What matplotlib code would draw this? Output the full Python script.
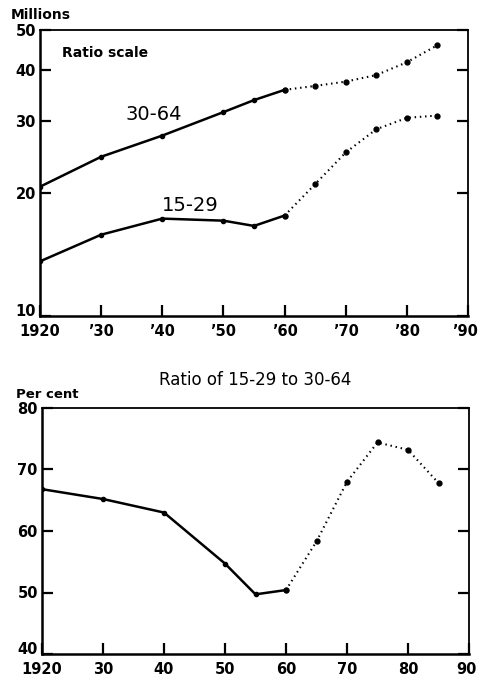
import matplotlib.pyplot as plt
from matplotlib.transforms import ScaledTranslation

# population, millions (ratio scale)
years_obs = [1920, 1930, 1940, 1950, 1955, 1960]
years_proj = [1960, 1965, 1970, 1975, 1980, 1985]
age_30_64_obs = [20.7, 24.5, 27.6, 31.5, 33.7, 35.7]
age_30_64_proj = [35.7, 36.5, 37.4, 38.8, 41.7, 45.9]
age_15_29_obs = [13.6, 15.8, 17.3, 17.1, 16.6, 17.6]
age_15_29_proj = [17.6, 21.0, 25.1, 28.6, 30.5, 30.9]

# ratio of 15-29 to 30-64, per cent
ratio_obs = [66.8, 65.2, 63.0, 54.7, 49.7, 50.4]
ratio_proj = [50.4, 58.3, 68.0, 74.4, 73.2, 67.8]

xticks = [1920, 1930, 1940, 1950, 1960, 1970, 1980, 1990]
top_xlabels = ['1920', '’30', '’40', '’50', '’60', '’70', '’80', '’90']
bot_xlabels = ['1920', '30', '40', '50', '60', '70', '80', '90']
top_yticks = [10, 20, 30, 40, 50]
bot_yticks = [40, 50, 60, 70, 80]

W, H = 479, 678
plt.rcParams['font.family'] = ['DejaVu Sans']
fig = plt.figure(figsize=(W / 100, H / 100), dpi=100)


def px_axes(l, t, r, b):
    return fig.add_axes([l / W, 1 - b / H, (r - l) / W, (b - t) / H])


def style(ax):
    for s in ['left', 'bottom']:
        ax.spines[s].set_linewidth(1.8)
    for s in ['top', 'right']:
        ax.spines[s].set_linewidth(1.3)
    ax.tick_params(direction='in', length=8, width=1.6, right=True, top=False,
                   labelsize=10.5, pad=6)
    ax.tick_params(axis='y', pad=3, labelsize=10.5)
    for lab in ax.get_xticklabels() + ax.get_yticklabels():
        lab.set_fontweight('bold')
    # lowest y label sits on the corner, above the x labels
    ax.get_yticklabels()[0].set_verticalalignment('baseline')


def nudge_last(ax):
    lab = ax.get_xticklabels()[-1]
    lab.set_transform(lab.get_transform() +
                      ScaledTranslation(-3 / 100, 0, fig.dpi_scale_trans))


def draw(ax, xo, yo, xp, yp):
    ax.plot(xo, yo, color='black', lw=1.8, marker='o', ms=3)
    ax.plot(xp, yp, color='black', lw=1.5, ls=(0, (0.7, 1.8)), marker='o', ms=3.5)


# top panel
ax1 = px_axes(40, 30, 468, 316)
draw(ax1, years_obs, age_30_64_obs, years_proj, age_30_64_proj)
draw(ax1, years_obs, age_15_29_obs, years_proj, age_15_29_proj)
ax1.set_yscale('log')
ax1.set_xlim(1920, 1990)
ax1.set_ylim(10, 50)
ax1.set_yticks(top_yticks)
ax1.set_yticklabels([str(v) for v in top_yticks])
ax1.minorticks_off()
ax1.set_xticks(xticks)
ax1.set_xticklabels(top_xlabels)
style(ax1)
ax1.text(0.152, 0.92, 'Ratio scale', transform=ax1.transAxes, ha='center',
         va='center', fontsize=10, fontweight='bold')
ax1.text(0.266, 0.703, '30-64', transform=ax1.transAxes, ha='center',
         va='center', fontsize=14)
ax1.text(0.350, 0.388, '15-29', transform=ax1.transAxes, ha='center',
         va='center', fontsize=14)
fig.text(41 / W, 1 - 15 / H, 'Millions', ha='center', va='center',
         fontsize=10, fontweight='bold')

# bottom panel
ax2 = px_axes(42, 408, 469, 654)
draw(ax2, years_obs, ratio_obs, years_proj, ratio_proj)
ax2.set_xlim(1920, 1990)
ax2.set_ylim(40, 80)
ax2.set_yticks(bot_yticks)
ax2.set_xticks(xticks)
ax2.set_xticklabels(bot_xlabels)
style(ax2)
fig.text(255 / W, 1 - 380 / H, 'Ratio of 15-29 to 30-64', ha='center',
         va='center', fontsize=12)
fig.text(47 / W, 1 - 394 / H, 'Per cent', ha='center', va='center',
         fontsize=9.5, fontweight='bold')

nudge_last(ax1)
nudge_last(ax2)

fig.savefig('out.png', dpi=100)
